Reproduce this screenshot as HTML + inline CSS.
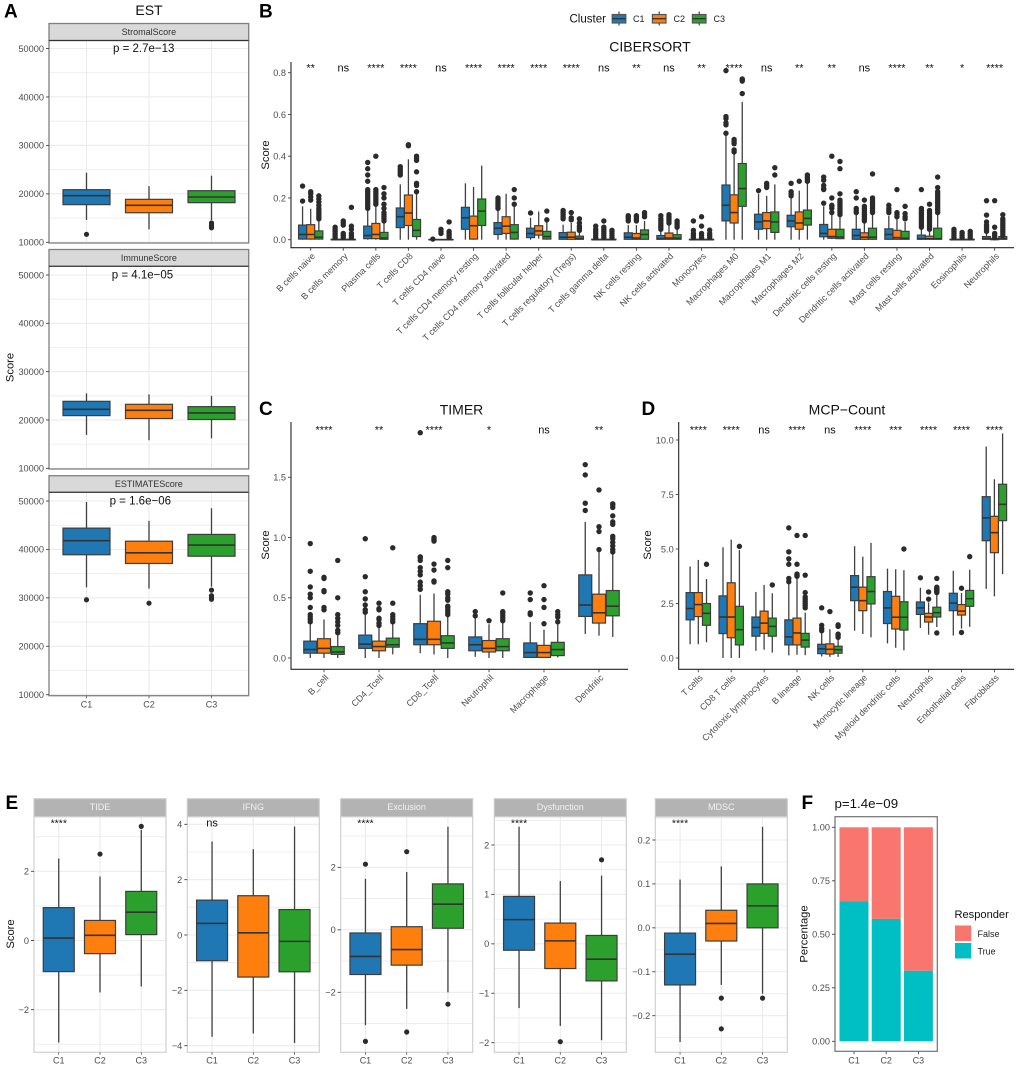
<!DOCTYPE html>
<html lang="en">
<head>
<meta charset="utf-8">
<title>Immune score boxplots</title>
<style>
html,body{margin:0;padding:0;background:#fff;}
svg{display:block;font-family:"Liberation Sans",Arial,sans-serif;filter:blur(0.3px);}
</style>
</head>
<body>
<svg id="figure" xmlns="http://www.w3.org/2000/svg" width="1020" height="1070" viewBox="0 0 1020 1070">
<rect x="0" y="0" width="1020" height="1070" fill="#fff"/>

<g id="chart-a"></g>
<g id="chart-b"></g>
<g id="chart-c"></g>
<g id="chart-d"></g>
<g id="chart-e"></g>
<g id="chart-f"></g>

<g font-weight="bold" font-size="19" fill="#000">
<text x="4" y="17.5">A</text>
<text x="259" y="17.5">B</text>
<text x="259" y="415">C</text>
<text x="641.5" y="415">D</text>
<text x="5.5" y="809">E</text>
<text x="801.5" y="809">F</text>
</g>

<g font-size="14" fill="#111" text-anchor="middle">
<text x="149" y="15">EST</text>
<text x="650" y="51.5">CIBERSORT</text>
<text x="461.5" y="414.5">TIMER</text>
<text x="847" y="414.5">MCP−Count</text>
</g>
<text x="834.5" y="808" font-size="13.3" fill="#111">p=1.4e−09</text>

<g font-size="11.5" fill="#111" text-anchor="middle">
<text x="143.7" y="52">p = 2.7e−13</text>
<text x="142.5" y="278.5">p = 4.1e−05</text>
<text x="140.3" y="504.5">p = 1.6e−06</text>
</g>

<g font-size="11.2" fill="#111" text-anchor="middle">
<text transform="translate(13.5,367.5) rotate(-90)">Score</text>
<text transform="translate(269,155) rotate(-90)">Score</text>
<text transform="translate(269,545) rotate(-90)">Score</text>
<text transform="translate(651,545) rotate(-90)">Score</text>
<text transform="translate(14,934) rotate(-90)">Score</text>
<text transform="translate(807.5,934) rotate(-90)">Percentage</text>
</g>

<g>
<text x="569.5" y="22.5" font-size="11.5" fill="#111">Cluster</text>
<g>
<line x1="619" x2="619" y1="11.5" y2="25.5" stroke="#444" stroke-width="1.2"/>
<rect x="612.2" y="14.5" width="13.6" height="8.5" fill="#1F77B4" stroke="#555" stroke-width="1.2"/>
<line x1="612.2" x2="625.8" y1="18.7" y2="18.7" stroke="#333" stroke-width="1.3"/>
<text x="633" y="22" font-size="9" fill="#222">C1</text>
</g>
<g>
<line x1="659.2" x2="659.2" y1="11.5" y2="25.5" stroke="#444" stroke-width="1.2"/>
<rect x="652.4" y="14.5" width="13.6" height="8.5" fill="#FF7F0E" stroke="#555" stroke-width="1.2"/>
<line x1="652.4" x2="666" y1="18.7" y2="18.7" stroke="#333" stroke-width="1.3"/>
<text x="673.5" y="22" font-size="9" fill="#222">C2</text>
</g>
<g>
<line x1="699.2" x2="699.2" y1="11.5" y2="25.5" stroke="#444" stroke-width="1.2"/>
<rect x="692.4" y="14.5" width="13.6" height="8.5" fill="#2CA02C" stroke="#555" stroke-width="1.2"/>
<line x1="692.4" x2="706" y1="18.7" y2="18.7" stroke="#333" stroke-width="1.3"/>
<text x="713.5" y="22" font-size="9" fill="#222">C3</text>
</g>
</g>

<g>
<text x="954.5" y="918" font-size="11.1" fill="#111">Responder</text>
<rect x="955" y="925.5" width="16.3" height="15.5" fill="#F8766D"/>
<text x="977.5" y="936.8" font-size="9" fill="#222">False</text>
<rect x="955" y="943" width="16.3" height="15.5" fill="#00BFC4"/>
<text x="977.5" y="954.3" font-size="9" fill="#222">True</text>
</g>
</svg>

<script>
// ---------- DATA: each box is [whiskerLow, q1, median, q3, whiskerHigh, [outliers]] ----------
const clusters = ['C1', 'C2', 'C3'];

// Panel A
const estTicks = [10000, 20000, 30000, 40000, 50000];
const stromalBoxes = [
  [14600, 17770, 19620, 20860, 24360, [11650]],
  [12680, 16100, 17630, 18870, 21600, []],
  [14600, 18180, 19350, 20650, 23750, [13000, 13300, 13600, 14000]]
];
const immuneBoxes = [
  [16900, 20900, 22200, 23860, 25500, []],
  [15800, 20300, 22000, 23240, 25300, []],
  [16200, 20100, 21450, 22760, 25000, []]
];
const estimateBoxes = [
  [32170, 38900, 41800, 44400, 49800, [29600]],
  [31900, 37100, 39300, 41700, 45900, [28900]],
  [32300, 38600, 40900, 43100, 48500, [29700, 30000, 30450, 31600]]
];

// Panel B
const cibersortCategories = ['B cells naive', 'B cells memory', 'Plasma cells', 'T cells CD8', 'T cells CD4 naive', 'T cells CD4 memory resting', 'T cells CD4 memory activated', 'T cells follicular helper', 'T cells regulatory (Tregs)', 'T cells gamma delta', 'NK cells resting', 'NK cells activated', 'Monocytes', 'Macrophages M0', 'Macrophages M1', 'Macrophages M2', 'Dendritic cells resting', 'Dendritic cells activated', 'Mast cells resting', 'Mast cells activated', 'Eosinophils', 'Neutrophils'];
const cibersortSignif = ['**', 'ns', '****', '****', 'ns', '****', '****', '****', '****', 'ns', '**', 'ns', '**', '****', 'ns', '**', '**', 'ns', '****', '**', '*', '****'];
const cibersortTicks = [0, 0.2, 0.4, 0.6, 0.8];
const cibersortC1 = [
  [0, .003, .025, .07, .16, [.185, .257]],
  [0, 0, 0, .002, .005, [.01, .02, .03, .04, .05, .06]],
  [0, .005, .02, .065, .145, [.15, .16, .17, .18, .19, .2, .21, .22, .23, .24, .28, .31, .34, .37]],
  [0, .058, .11, .152, .265, [.31, .32, .33, .34, .35]],
  [0, 0, 0, .001, .002, [.003]],
  [0, .05, .105, .155, .27, []],
  [0, .025, .055, .082, .145, [.15, .16, .17, .18, .19, .2]],
  [0, .01, .03, .055, .105, [.128]],
  [0, .002, .012, .034, .072, [.1, .11, .12, .13, .14]],
  [0, 0, 0, .002, .005, [.01, .02, .03, .04, .05, .065]],
  [0, .002, .012, .033, .07, [.09, .1, .11, .115]],
  [0, .002, .005, .02, .04, [.05, .06, .07, .08, .09, .1, .115]],
  [0, 0, 0, .002, .005, [.01, .02, .03, .045, .09]],
  [0, .09, .165, .262, .5, [.51, .55, .56, .58, .59, .81]],
  [0, .05, .085, .122, .22, [.235]],
  [0, .062, .09, .117, .2, [.21, .22, .23, .27]],
  [0, .014, .03, .073, .16, [.175, .24, .245, .26, .285, .3]],
  [0, .002, .02, .05, .12, [.13, .14, .15, .2, .23]],
  [0, .002, .025, .052, .115, [.13, .14, .15, .165]],
  [0, .002, .005, .022, .05, [.06, .07, .08, .09, .1, .11, .12, .13, .14, .15, .24]],
  [0, 0, 0, .002, .005, [.01, .02, .03, .04, .05]],
  [0, .002, .005, .015, .03, [.04, .05, .06, .07, .085, .118, .187]]
];
const cibersortC2 = [
  [0, .003, .025, .072, .148, [.19, .205, .22, .23]],
  [0, 0, 0, .002, .005, [.01, .02, .03, .07, .08, .09]],
  [0, .005, .025, .078, .16, [.17, .18, .19, .2, .21, .22, .23, .24, .4]],
  [0, .068, .128, .214, .385, [.45, .455]],
  [0, 0, 0, .001, .002, [.03, .04, .05]],
  [0, .003, .067, .113, .252, []],
  [0, .03, .065, .11, .22, []],
  [.005, .022, .042, .067, .135, []],
  [0, .002, .012, .036, .08, [.095, .105, .13]],
  [0, 0, 0, .002, .005, [.01, .02, .03, .04, .05, .06, .09]],
  [0, .002, .008, .03, .07, [.09, .1, .11, .115]],
  [0, .002, .008, .032, .07, [.08, .09, .1, .11, .12]],
  [0, 0, 0, .002, .005, [.01, .02, .03, .065, .11]],
  [0, .08, .13, .215, .415, [.42, .43, .46, .47, .48]],
  [0, .053, .09, .13, .21, [.25, .26, .27]],
  [0, .05, .08, .133, .235, [.28]],
  [.003, .007, .015, .05, .12, [.13, .15, .16, .165, .2, .4]],
  [0, .002, .012, .033, .085, [.09, .1, .11, .12, .13, .14, .15, .16, .19]],
  [0, .002, .01, .045, .1, [.11, .12, .13, .24]],
  [0, .002, .005, .017, .04, [.05, .06, .07, .08, .09, .1, .11, .12, .13, .14, .17]],
  [0, 0, 0, .002, .005, [.01, .02, .03, .035]],
  [0, 0, .002, .005, .008, [.01, .02, .03, .06, .187]]
];
const cibersortC3 = [
  [0, .003, .012, .042, .09, [.1, .11, .12, .13, .14, .15, .165, .18, .195, .21]],
  [0, 0, 0, .002, .005, [.01, .02, .03, .05, .065, .155]],
  [0, .002, .008, .035, .08, [.09, .1, .11, .12, .13, .15, .17, .2, .22, .25]],
  [0, .015, .045, .097, .22, [.23, .26, .27, .325, .38, .39, .4]],
  [0, 0, 0, .001, .002, [.01, .02, .03, .04, .085]],
  [0, .068, .137, .195, .355, []],
  [0, .003, .035, .072, .16, [.17, .2, .24]],
  [0, .003, .015, .04, .085, [.095, .137]],
  [0, .002, .006, .017, .04, [.045, .055, .065, .08, .1]],
  [0, 0, 0, .002, .005, [.01, .02, .03, .04, .045]],
  [0, .002, .025, .047, .09, [.11, .12, .13]],
  [0, .002, .008, .024, .05, [.06, .07, .08, .09]],
  [0, 0, 0, .002, .005, [.01, .02, .03, .046]],
  [0, .16, .245, .365, .66, [.7, .76, .765, .77]],
  [0, .035, .085, .133, .265, [.31, .345]],
  [0, .07, .102, .142, .27, [.28, .29, .3, .31]],
  [.003, .005, .013, .05, .11, [.12, .13, .14, .15, .16, .17, .18, .19, .22, .34, .375]],
  [0, .002, .012, .055, .125, [.13, .14, .15, .16, .17, .18, .19, .2, .315]],
  [0, .002, .007, .04, .085, [.1, .11, .125, .16]],
  [0, .002, .005, .055, .12, [.13, .14, .15, .16, .17, .18, .19, .2, .21, .22, .23, .25, .3]],
  [0, 0, 0, .002, .005, [.01, .02, .03, .04]],
  [0, .002, .005, .015, .018, [.02, .03, .04, .05, .06, .07, .08, .09, .1, .12]]
];

// Panel C
const timerCategories = ['B_cell', 'CD4_Tcell', 'CD8_Tcell', 'Neutrophil', 'Macrophage', 'Dendritic'];
const timerSignif = ['****', '**', '****', '*', 'ns', '**'];
const timerTicks = [0, 0.5, 1, 1.5];
const timerC1 = [
  [0, .04, .07, .14, .28, [.3, .32, .34, .36, .42, .5, .53, .59, .72, .95]],
  [0, .08, .115, .19, .36, [.38, .4, .44, .49, .55, .675, .99]],
  [.04, .11, .155, .285, .525, [.57, .6, .63, .69, .72, .75, .81, .83, .84, 1.87]],
  [.01, .06, .11, .175, .34, [.35, .385]],
  [0, .005, .045, .125, .3, [.36, .375, .485, .54]],
  [.2, .345, .44, .69, 1.13, [1.225, 1.285, 1.52, 1.605]]
];
const timerC2 = [
  [0, .04, .08, .16, .32, [.4, .42, .55, .56, .66, .67]],
  [0, .06, .095, .14, .26, [.27, .29, .32, .33, .4, .41, .455]],
  [.03, .11, .155, .305, .535, [.63, .64, .73, .78, .97, .98, .99, 1]],
  [0, .05, .08, .145, .28, [.31]],
  [0, .005, .045, .105, .235, [.285, .42, .485, .6]],
  [.185, .29, .375, .53, .88, [.9, 1.05, 1.09, 1.395]]
];
const timerC3 = [
  [0, .03, .05, .095, .2, [.21, .23, .27, .3, .33, .36, .5, .81]],
  [.03, .09, .11, .165, .29, [.3, .32, .34, .36, .455, .915]],
  [0, .08, .125, .185, .35, [.36, .38, .4, .42, .43, .48, .5, .53, .55, .75, .81]],
  [0, .06, .095, .16, .3, [.31, .33, .35, .37, .385, .54]],
  [.005, .02, .07, .13, .28, [.3, .34, .36, .385]],
  [.175, .35, .43, .56, .875, [.88, .9, .93, .96, .99, 1.01, 1.11, 1.13, 1.18, 1.25, 1.27, 1.28]]
];

// Panel D
const mcpCategories = ['T cells', 'CD8 T cells', 'Cytotoxic lymphocytes', 'B lineage', 'NK cells', 'Monocytic lineage', 'Myeloid dendritic cells', 'Neutrophils', 'Endothelial cells', 'Fibroblasts'];
const mcpSignif = ['****', '****', 'ns', '****', 'ns', '****', '***', '****', '****', '****'];
const mcpTicks = [0, 2.5, 5, 7.5, 10];
const mcpC1 = [
  [.63, 1.75, 2.27, 3, 4.2, []],
  [0, 1.12, 1.88, 2.85, 5.08, []],
  [.33, 1, 1.4, 1.88, 3.03, []],
  [.12, .6, .97, 1.75, 3.4, [3.5, 3.65, 4.3, 4.55, 4.87, 5.97]],
  [.07, .2, .42, .63, 1.2, [1.25, 1.35, 1.5, 2.3]],
  [1.25, 2.63, 3.25, 3.78, 5.13, []],
  [.67, 1.58, 2.3, 3.05, 4.1, []],
  [1.38, 2, 2.3, 2.57, 3.22, [3.68]],
  [1.03, 2.17, 2.52, 2.97, 4, []],
  [3.17, 5.38, 6.43, 7.4, 9.7, []]
];
const mcpC2 = [
  [.63, 1.9, 2.45, 3, 4.5, []],
  [0, .93, 1.88, 3.45, 5.43, []],
  [.38, 1.13, 1.6, 2.15, 3.35, []],
  [.15, .6, 1.15, 1.83, 3.7, [3.75, 3.8, 3.85, 4.3, 5.62]],
  [.05, .18, .4, .65, 1.32, [2.13]],
  [1.1, 2.17, 2.63, 3.25, 4.65, []],
  [.47, 1.33, 1.87, 2.83, 4.07, []],
  [1.07, 1.65, 1.88, 2.05, 2.55, [2.7, 3.03]],
  [1.35, 1.97, 2.15, 2.45, 2.98, [1.17, 3.2]],
  [2.83, 4.83, 5.75, 6.5, 8.2, []]
];
const mcpC3 = [
  [.72, 1.5, 2.05, 2.5, 3.62, [4.3]],
  [0, .6, 1.3, 2.37, 4.95, [5.12]],
  [.25, 1, 1.45, 1.83, 2.97, [3.35]],
  [.13, .5, .82, 1.13, 2.08, [2.3, 2.4, 2.5, 2.6, 2.7, 2.8, 3, 3.8, 5.62]],
  [.05, .22, .38, .54, .9, [.95, 1.05, 1.1, 1.45, 1.52]],
  [.95, 2.48, 3.05, 3.73, 5.28, []],
  [.35, 1.28, 1.87, 2.58, 4.03, [5]],
  [1.42, 1.88, 2.08, 2.33, 2.95, [1.15, 3, 3.05, 3.1, 3.15, 3.2, 3.25, 3.65]],
  [1.43, 2.37, 2.72, 3.1, 4.05, [4.65]],
  [3.85, 6.3, 7.05, 7.97, 10.3, []]
];

// Panel E
const tideTicks = [-2, 0, 2];
const ifngTicks = [-4, -2, 0, 2, 4];
const exclusionTicks = [-2, 0, 2];
const dysfunctionTicks = [-2, -1, 0, 1, 2];
const mdscTicks = [-0.2, -0.1, 0, 0.1, 0.2];
const tideBoxes = [
  [-2.95, -.9, .07, .95, 2.37, []],
  [-1.5, -.38, .15, .58, 1.85, [2.5]],
  [-1.33, .17, .82, 1.42, 3.2, [3.3]]
];
const ifngBoxes = [
  [-3.68, -.93, .42, 1.26, 3.38, []],
  [-3.56, -1.52, .08, 1.42, 3.1, []],
  [-3.9, -1.33, -.23, .92, 3.92, []]
];
const exclusionBoxes = [
  [-3.05, -1.43, -.85, -.1, 1.63, [2.1, -3.57]],
  [-2.53, -1.13, -.63, .1, 1.85, [2.5, -3.27]],
  [-2, .05, .82, 1.47, 3.3, [-2.38]]
];
const dysfunctionBoxes = [
  [-1.3, -.13, .49, .96, 2.37, []],
  [-1.66, -.5, .06, .42, 1.27, [-1.98]],
  [-1.95, -.75, -.31, .17, 1.38, [1.7]]
];
const mdscBoxes = [
  [-.26, -.13, -.06, -.012, .11, []],
  [-.13, -.03, .01, .04, .14, [-.16, -.23]],
  [-.15, 0, .05, .1, .23, [-.16]]
];

// Panel F
const responderTicks = [0, 0.25, 0.5, 0.75, 1];
const responderTrue = [0.655, 0.572, 0.33];
const responderFalse = [0.345, 0.428, 0.67];

// ---------- DRAWING ----------
const SVGNS = 'http://www.w3.org/2000/svg';
const clusterColors = ['#1F77B4', '#FF7F0E', '#2CA02C'];

function mk(tag, attrs, parent) {
  const el = document.createElementNS(SVGNS, tag);
  for (const k in attrs) el.setAttribute(k, attrs[k]);
  parent.appendChild(el);
  return el;
}
function scaleLinear(domain, range) {
  return v => range[0] + (v - domain[0]) * (range[1] - range[0]) / (domain[1] - domain[0]);
}
function fmt(t, digits) {
  return t.toFixed(digits).replace('-', '\u2212');
}

function drawBox(parent, b, cx, w, color, y, name, r) {
  const group = mk('g', {}, parent);
  
  
  const whiskerLow = mk('line', {x1: cx, x2: cx, y1: y(b[0]), y2: y(b[1]), stroke: '#404040', 'stroke-width': 1.3}, group);
  
  
  const whiskerHigh = mk('line', {x1: cx, x2: cx, y1: y(b[3]), y2: y(b[4]), stroke: '#404040', 'stroke-width': 1.3}, group);
  
  
  const rect = mk('rect', {x: cx - w / 2, y: y(b[3]), width: w, height: Math.max(0.3, y(b[1]) - y(b[3])), fill: color, stroke: '#3d3d3d', 'stroke-width': 1.2}, group);
  
  
  const median = mk('line', {x1: cx - w / 2, x2: cx + w / 2, y1: y(b[2]), y2: y(b[2]), stroke: '#333', 'stroke-width': 1.6}, group);
  
  
  b[5].forEach(v => {
    const dot = mk('circle', {cx: cx, cy: y(v), r: r, fill: '#2b2b2b'}, group);
    
    
  });
}

function drawYTicks(parent, ticks, y, axisX, digits, name) {
  ticks.forEach(t => {
    const tick = mk('line', {x1: axisX - 3, x2: axisX, y1: y(t), y2: y(t), stroke: '#444', 'stroke-width': 0.9}, parent);
    
    
    const label = mk('text', {x: axisX - 5, y: y(t) + 3.3, 'font-size': 9.2, fill: '#4D4D4D', 'text-anchor': 'end'}, parent);
    
    
    label.textContent = fmt(t, digits);
  });
}

function drawClassicGroupedPanel(parent, cfg) {
  const x = i => cfg.x0 + i * cfg.step;
  const left = mk('line', {x1: cfg.left, x2: cfg.left, y1: cfg.top, y2: cfg.bottom + 0.5, stroke: '#222', 'stroke-width': 1.1}, parent);
  
  
  const bottom = mk('line', {x1: cfg.left, x2: cfg.right, y1: cfg.bottom, y2: cfg.bottom, stroke: '#222', 'stroke-width': 1.1}, parent);
  
  
  drawYTicks(parent, cfg.ticks, cfg.y, cfg.left, cfg.digits, cfg.name);
  cfg.categories.forEach((c, i) => {
    const cx = x(i);
    const tick = mk('line', {x1: cx, x2: cx, y1: cfg.bottom, y2: cfg.bottom + 3, stroke: '#444', 'stroke-width': 0.9}, parent);
    
    
    const lx = cx + 5, ly = cfg.bottom + 9;
    const label = mk('text', {x: lx, y: ly, 'font-size': 9, fill: '#4D4D4D', 'text-anchor': 'end', transform: 'rotate(-45 ' + lx + ' ' + ly + ')'}, parent);
    
    
    label.textContent = c;
    const sig = mk('text', {x: cx, y: cfg.sigY, 'font-size': 11, fill: '#111', 'text-anchor': 'middle'}, parent);
    
    
    sig.textContent = cfg.signif[i];
    cfg.series.forEach((s, k) => {
      drawBox(parent, s[i], cx + (k - 1) * cfg.dodge, cfg.boxW, clusterColors[k], cfg.y, cfg.name + '-box-' + clusters[k].toLowerCase(), cfg.r);
    });
  });
}

function drawFacet(parent, cfg) {
  const x = i => cfg.left + (i + 0.6) * cfg.step;
  const bg = mk('rect', {x: cfg.left, y: cfg.top, width: cfg.right - cfg.left, height: cfg.bottom - cfg.top, fill: '#fff'}, parent);
  
  
  const step = cfg.ticks[1] - cfg.ticks[0];
  const first = cfg.ticks[0] - step * 2;
  for (let k = 0; k <= (cfg.ticks.length + 3) * 2; k++) {
    const v = first + k * step / 2;
    const py = cfg.y(v);
    if (py <= cfg.top || py >= cfg.bottom) continue;
    const g = mk('line', {x1: cfg.left, x2: cfg.right, y1: py, y2: py, stroke: '#EBEBEB', 'stroke-width': k % 2 ? 0.8 : 1.1}, parent);
    
    
  }
  clusters.forEach((c, i) => {
    const g = mk('line', {x1: x(i), x2: x(i), y1: cfg.top, y2: cfg.bottom, stroke: '#EBEBEB', 'stroke-width': 1.1}, parent);
    
    
  });
  cfg.boxes.forEach((b, i) => {
    drawBox(parent, b, x(i), cfg.boxW, clusterColors[i], cfg.y, cfg.name + '-box-' + clusters[i].toLowerCase(), cfg.r);
  });
  const strip = mk('rect', {x: cfg.left, y: cfg.stripTop, width: cfg.right - cfg.left, height: cfg.top - cfg.stripTop, fill: cfg.stripFill, stroke: cfg.stripStroke, 'stroke-width': cfg.borderW}, parent);
  
  
  const stripText = mk('text', {x: (cfg.left + cfg.right) / 2, y: cfg.top - cfg.stripBase, 'font-size': 9, fill: cfg.stripText, 'text-anchor': 'middle'}, parent);
  
  
  stripText.textContent = cfg.label;
  const border = mk('rect', {x: cfg.left, y: cfg.top, width: cfg.right - cfg.left, height: cfg.bottom - cfg.top, fill: 'none', stroke: cfg.border, 'stroke-width': cfg.borderW}, parent);
  
  
  if (cfg.stripRule) {
    const rule = mk('line', {x1: cfg.left, x2: cfg.right, y1: cfg.top, y2: cfg.top, stroke: cfg.stripRule, 'stroke-width': 1}, parent);
    
    
  }
  drawYTicks(parent, cfg.ticks, cfg.y, cfg.left, cfg.digits, cfg.name);
  if (cfg.showX) {
    clusters.forEach((c, i) => {
      const tick = mk('line', {x1: x(i), x2: x(i), y1: cfg.bottom, y2: cfg.bottom + 2.5, stroke: '#555', 'stroke-width': 0.8}, parent);
      
      
      const label = mk('text', {x: x(i), y: cfg.xLabelY, 'font-size': 9, fill: '#4D4D4D', 'text-anchor': 'middle'}, parent);
      
      
      label.textContent = c;
    });
  }
  if (cfg.signif) {
    const sig = mk('text', {x: x(0), y: cfg.sigY, 'font-size': cfg.signif === 'ns' ? 11 : 10.5, fill: '#111', 'text-anchor': 'middle'}, parent);
    
    
    sig.textContent = cfg.signif;
  }
}

// Panel A facets
const chartA = document.getElementById('chart-a');
const estStyle = {left: 49, right: 248.7, step: 62.5, boxW: 47, r: 2.6, ticks: estTicks, digits: 0, stripFill: '#D9D9D9', stripStroke: '#808080', stripText: '#333', stripBase: 5.4, border: '#808080', borderW: 1.3, stripRule: '#333'};
drawFacet(chartA, Object.assign({}, estStyle, {name: 'stromal-score', label: 'StromalScore', boxes: stromalBoxes, stripTop: 23.5, top: 40.5, bottom: 243, y: scaleLinear([10000, 50000], [242.3, 48.5]), showX: false}));
drawFacet(chartA, Object.assign({}, estStyle, {name: 'immune-score', label: 'ImmuneScore', boxes: immuneBoxes, stripTop: 249.5, top: 266.3, bottom: 469, y: scaleLinear([10000, 50000], [468.3, 275]), showX: false}));
drawFacet(chartA, Object.assign({}, estStyle, {name: 'estimate-score', label: 'ESTIMATEScore', boxes: estimateBoxes, stripTop: 475.7, top: 492.3, bottom: 695.7, y: scaleLinear([10000, 50000], [694.7, 501]), showX: true, xLabelY: 707.5}));

// Panel B
drawClassicGroupedPanel(document.getElementById('chart-b'), {
  name: 'cibersort', categories: cibersortCategories, signif: cibersortSignif, ticks: cibersortTicks, digits: 1,
  series: [cibersortC1, cibersortC2, cibersortC3],
  left: 291, right: 1014, top: 62, bottom: 247.7, x0: 310.7, step: 32.57, boxW: 8, dodge: 8.14, r: 2.7, sigY: 71.7,
  y: scaleLinear([0, 0.8], [239.7, 72.7])
});

// Panel C
drawClassicGroupedPanel(document.getElementById('chart-c'), {
  name: 'timer', categories: timerCategories, signif: timerSignif, ticks: timerTicks, digits: 1,
  series: [timerC1, timerC2, timerC3],
  left: 291, right: 628, top: 422, bottom: 669.3, x0: 324, step: 55, boxW: 13, dodge: 13.75, r: 2.7, sigY: 433.3,
  y: scaleLinear([0, 1.5], [658, 477.3])
});

// Panel D
drawClassicGroupedPanel(document.getElementById('chart-d'), {
  name: 'mcp-count', categories: mcpCategories, signif: mcpSignif, ticks: mcpTicks, digits: 1,
  series: [mcpC1, mcpC2, mcpC3],
  left: 678.7, right: 1014, top: 422, bottom: 669.3, x0: 698.3, step: 32.9, boxW: 8, dodge: 8.2, r: 2.7, sigY: 433.3,
  y: scaleLinear([0, 10], [658, 440])
});

// Panel E facets
const chartE = document.getElementById('chart-e');
const eStyle = {right: 0, step: 41.25, boxW: 31, r: 2.6, stripFill: '#B3B3B3', stripStroke: '#CCCCCC', stripText: '#F2F2F2', stripBase: 6.7, border: '#CCCCCC', borderW: 1.1, stripTop: 798.7, top: 816.7, bottom: 1052.3, showX: true, xLabelY: 1063.3, sigY: 826.5};
drawFacet(chartE, Object.assign({}, eStyle, {name: 'tide', label: 'TIDE', left: 34, right: 166, boxes: tideBoxes, ticks: tideTicks, digits: 0, signif: '****', y: scaleLinear([-2, 2], [1009.67, 871.33])}));
drawFacet(chartE, Object.assign({}, eStyle, {name: 'ifng', label: 'IFNG', left: 187.3, right: 319.3, boxes: ifngBoxes, ticks: ifngTicks, digits: 0, signif: 'ns', y: scaleLinear([-4, 4], [1045.67, 824.33])}));
drawFacet(chartE, Object.assign({}, eStyle, {name: 'exclusion', label: 'Exclusion', left: 340.7, right: 472.7, boxes: exclusionBoxes, ticks: exclusionTicks, digits: 0, signif: '****', y: scaleLinear([-2, 2], [992.33, 867.33])}));
drawFacet(chartE, Object.assign({}, eStyle, {name: 'dysfunction', label: 'Dysfunction', left: 494.3, right: 626.3, boxes: dysfunctionBoxes, ticks: dysfunctionTicks, digits: 0, signif: '****', y: scaleLinear([-2, 2], [1042.67, 845])}));
drawFacet(chartE, Object.assign({}, eStyle, {name: 'mdsc', label: 'MDSC', left: 655.3, right: 787.3, boxes: mdscBoxes, ticks: mdscTicks, digits: 1, signif: '****', y: scaleLinear([-0.2, 0.2], [1015.67, 840])}));

// Panel F
(function () {
  const parent = document.getElementById('chart-f');
  const y = scaleLinear([0, 1], [1041.3, 827.3]);
  const x = i => 854 + i * 32.2;
  const barW = 29;
  const left = 835, right = 937.3, top = 816.7, bottom = 1051.3;
  clusters.forEach((c, i) => {
    const trueBar = mk('rect', {x: x(i) - barW / 2, y: y(responderTrue[i]), width: barW, height: y(0) - y(responderTrue[i]), fill: '#00BFC4'}, parent);
    
    
    const top2 = responderTrue[i] + responderFalse[i];
    const falseBar = mk('rect', {x: x(i) - barW / 2, y: y(top2), width: barW, height: y(responderTrue[i]) - y(top2), fill: '#F8766D'}, parent);
    
    
    const tick = mk('line', {x1: x(i), x2: x(i), y1: bottom, y2: bottom + 3, stroke: '#444', 'stroke-width': 0.9}, parent);
    
    
    const label = mk('text', {x: x(i), y: 1063.3, 'font-size': 9, fill: '#4D4D4D', 'text-anchor': 'middle'}, parent);
    
    
    label.textContent = c;
  });
  const border = mk('rect', {x: left, y: top, width: right - left, height: bottom - top, fill: 'none', stroke: '#707070', 'stroke-width': 1.2}, parent);
  
  
  drawYTicks(parent, responderTicks, y, left, 2, 'responder');
})();
</script>
</body>
</html>
